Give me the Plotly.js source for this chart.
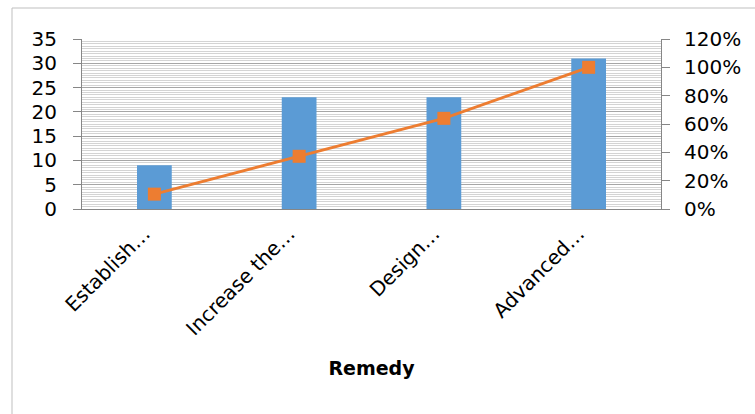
<!DOCTYPE html>
<html>
<head>
<meta charset="utf-8">
<script src="https://cdn.plot.ly/plotly-3.0.1.min.js"></script>
<style>html,body{margin:0;padding:0;background:#fff;}#chart{width:755px;height:414px;}</style>
</head>
<body>
<div id="chart"></div>
<script>
const categories = ["Establish…", "Increase the…", "Design…", "Advanced…"];
const counts = [9, 23, 23, 31];
const cumulativePct = [0.105, 0.372, 0.64, 1.0];
const leftTicks = [0, 5, 10, 15, 20, 25, 30, 35];
const rightTicks = [0, 0.2, 0.4, 0.6, 0.8, 1.0, 1.2];
const rightTickText = ["0%", "20%", "40%", "60%", "80%", "100%", "120%"];

const font = "'DejaVu Sans', sans-serif";

const traces = [
  {
    type: "bar",
    x: categories,
    y: counts,
    marker: {color: "#5B9BD5"},
    hoverinfo: "x+y",
    showlegend: false
  },
  {
    type: "scatter",
    mode: "lines+markers",
    x: categories,
    y: cumulativePct,
    yaxis: "y2",
    line: {color: "#ED7D31", width: 3},
    marker: {symbol: "square", size: 13, color: "#ED7D31"},
    showlegend: false
  }
];

const layout = {
  width: 755,
  height: 414,
  margin: {l: 82, r: 94, t: 39, b: 205},
  paper_bgcolor: "#fff",
  plot_bgcolor: "#fff",
  font: {family: font, size: 20, color: "#000"},
  bargap: 0.76,
  xaxis: {
    type: "category",
    tickangle: -45,
    showgrid: false,
    showline: true,
    linecolor: "#868686",
    linewidth: 1,
    ticks: "",
    ticklabelstandoff: 4,
    ticklabelshift: -10,
    tickfont: {family: font, size: 20, color: "#000"},
    title: {text: "<b>Remedy</b>", font: {family: font, size: 19, color: "#000"}, standoff: 22},
    automargin: false
  },
  yaxis: {
    range: [0, 35],
    tickvals: leftTicks,
    ticks: "outside",
    ticklen: 8,
    tickcolor: "#868686",
    showline: true,
    linecolor: "#868686",
    showgrid: true,
    gridcolor: "#a6a6a6",
    gridwidth: 1,
    zeroline: false,
    ticklabelstandoff: 12,
    minor: {dtick: 0.5, showgrid: true, gridcolor: "#d4d4d4", gridwidth: 1, ticks: ""},
    tickfont: {family: font, size: 20, color: "#000"},
    automargin: false
  },
  yaxis2: {
    overlaying: "y",
    side: "right",
    range: [0, 1.2],
    tickvals: rightTicks,
    ticktext: rightTickText,
    ticks: "outside",
    ticklen: 8,
    tickcolor: "#868686",
    showline: true,
    linecolor: "#868686",
    showgrid: false,
    zeroline: false,
    ticklabelstandoff: 10,
    tickfont: {family: font, size: 20, color: "#000"},
    automargin: false
  },
  shapes: [
    {type: "rect", xref: "paper", yref: "paper",
     x0: -70/579, x1: 740/579, y0: 1 + 31/170, y1: -220/170,
     line: {color: "#bfbfbf", width: 1}, fillcolor: "rgba(0,0,0,0)", layer: "below"}
  ]
};

Plotly.newPlot("chart", traces, layout, {displayModeBar: false, staticPlot: true});
</script>
</body>
</html>
